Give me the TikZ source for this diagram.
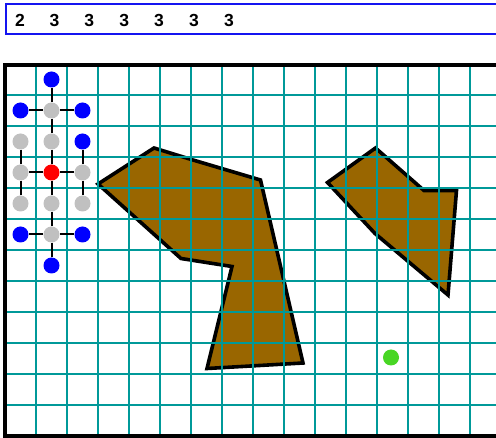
\documentclass[tikz,border=0pt]{standalone}
\usepackage{fontspec}
\setmainfont{Liberation Sans}
\definecolor{gridc}{RGB}{0,153,153}
\definecolor{brownc}{RGB}{153,102,0}
\definecolor{dotblue}{RGB}{0,0,255}
\definecolor{dotgray}{RGB}{192,192,192}
\definecolor{dotred}{RGB}{255,0,0}
\definecolor{dotgreen}{RGB}{72,214,36}
\definecolor{barblue}{RGB}{20,20,240}
\tikzset{
  gridline/.style={draw=gridc, line width=2pt},
  polyshape/.style={fill=brownc, draw=black, line width=3.6pt, line join=miter},
  frameline/.style={draw=black, line width=4pt},
  dotnode/.style={circle, inner sep=0pt, minimum size=16pt, draw=none},
  bdot/.style={dotnode, fill=dotblue},
  gdot/.style={dotnode, fill=dotgray},
  rdot/.style={dotnode, fill=dotred},
  grdot/.style={dotnode, fill=dotgreen},
  link/.style={draw=black, line width=2pt},
  barline/.style={draw=barblue, line width=2pt},
  digit/.style={font=\fontsize{17.5}{20}\selectfont\bfseries, inner sep=0pt, anchor=center}
}
\begin{document}
\begin{tikzpicture}[x=1pt,y=-1pt]
\useasboundingbox (0,0) rectangle (496,438);
\clip (0,0) rectangle (496,438);
\fill[white] (0,0) rectangle (496,438);
% shapes
\draw[polyshape] (98,184) -- (154,148) -- (193,160) -- (260.5,180) -- (303,363) -- (207,368.5) -- (232,266.5) -- (181,258.5) -- cycle;
\draw[polyshape] (327.5,182.5) -- (375.5,148) -- (424,190.5) -- (456.5,190.5) -- (448,295) -- (375,233.5) -- cycle;
% grid
\foreach \i in {1,...,15} \draw[gridline] ({5+31*\i},64) -- ({5+31*\i},436);
\foreach \j in {1,...,11} \draw[gridline] (5,{64+31*\j}) -- (500,{64+31*\j});
% frame
\draw[frameline] (5,65) rectangle (502,436);
% dots
\node[bdot]  (a0) at (51.5,79.5) {};
\node[bdot]  (b0) at (20.5,110.5) {};
\node[gdot]  (b1) at (51.5,110.5) {};
\node[bdot]  (b2) at (82.5,110.5) {};
\node[gdot]  (c0) at (20.5,141.5) {};
\node[gdot]  (c1) at (51.5,141.5) {};
\node[bdot]  (c2) at (82.5,141.5) {};
\node[gdot]  (d0) at (20.5,172.5) {};
\node[rdot]  (d1) at (51.5,172.5) {};
\node[gdot]  (d2) at (82.5,172.5) {};
\node[gdot]  (e0) at (20.5,203.5) {};
\node[gdot]  (e1) at (51.5,203.5) {};
\node[gdot]  (e2) at (82.5,203.5) {};
\node[bdot]  (f0) at (20.5,234.5) {};
\node[gdot]  (f1) at (51.5,234.5) {};
\node[bdot]  (f2) at (82.5,234.5) {};
\node[bdot]  (g0) at (51.5,265.5) {};
\node[grdot] (green) at (391,357.5) {};
% links
\draw[link] (a0) -- (b1);
\draw[link] (b0) -- (b1);
\draw[link] (b1) -- (b2);
\draw[link] (b1) -- (c1);
\draw[link] (c1) -- (d1);
\draw[link] (c0) -- (d0);
\draw[link] (c2) -- (d2);
\draw[link] (d0) -- (d1);
\draw[link] (d1) -- (d2);
\draw[link] (d0) -- (e0);
\draw[link] (d1) -- (e1);
\draw[link] (d2) -- (e2);
\draw[link] (e1) -- (f1);
\draw[link] (f0) -- (f1);
\draw[link] (f1) -- (f2);
\draw[link] (f1) -- (g0);
% top bar
\draw[barline] (5.5,4) rectangle (510,34);
\node[digit] (t1) at (20,20.7) {2};
\node[digit] (t2) at (54.5,20.7) {3};
\node[digit] (t3) at (89.3,20.7) {3};
\node[digit] (t4) at (124.2,20.7) {3};
\node[digit] (t5) at (159,20.7) {3};
\node[digit] (t6) at (194,20.7) {3};
\node[digit] (t7) at (229,20.7) {3};
\end{tikzpicture}
\end{document}
